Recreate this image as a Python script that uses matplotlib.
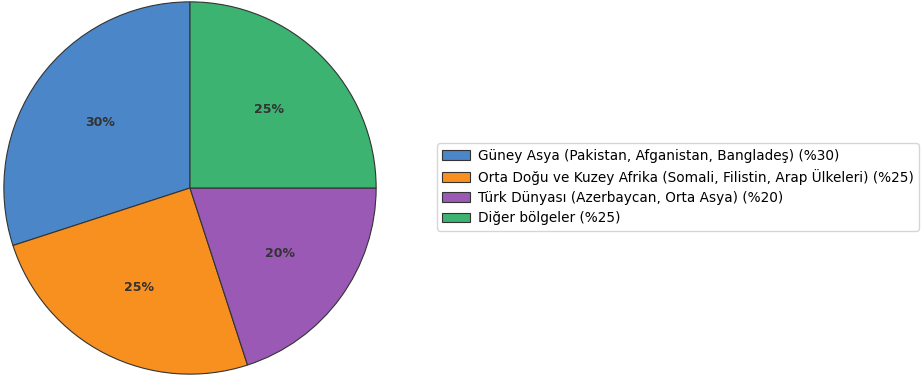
import matplotlib
matplotlib.use("Agg")
import matplotlib.pyplot as plt

# regional shares
regions = [
    "Güney Asya (Pakistan, Afganistan, Bangladeş) (%30)",
    "Orta Doğu ve Kuzey Afrika (Somali, Filistin, Arap Ülkeleri) (%25)",
    "Türk Dünyası (Azerbaycan, Orta Asya) (%20)",
    "Diğer bölgeler (%25)",
]
shares = [30, 25, 20, 25]
colors = ["#4a86c8", "#f8901f", "#9b59b6", "#3cb371"]

fig = plt.figure(figsize=(9.21, 3.8), dpi=100)
ax = fig.add_axes([2 / 921, 4 / 380, 376 / 921, 376 / 380])

wedges, texts, autotexts = ax.pie(
    shares,
    colors=colors,
    startangle=90,
    autopct="%1.0f%%",
    wedgeprops={"edgecolor": "#333333", "linewidth": 0.8},
    textprops={"fontweight": "bold", "fontsize": 9, "color": "#333333"},
)
ax.set_xlim(-1.01, 1.01)
ax.set_ylim(-1.01, 1.01)
ax.set_aspect("equal")

fig.legend(
    wedges,
    regions,
    loc="center left",
    bbox_to_anchor=(430 / 921, 1 - 187 / 380),
    fontsize=9.85,
    labelspacing=0.45,
    handletextpad=0.6,
    frameon=True,
)

fig.savefig("out.png", dpi=100)
